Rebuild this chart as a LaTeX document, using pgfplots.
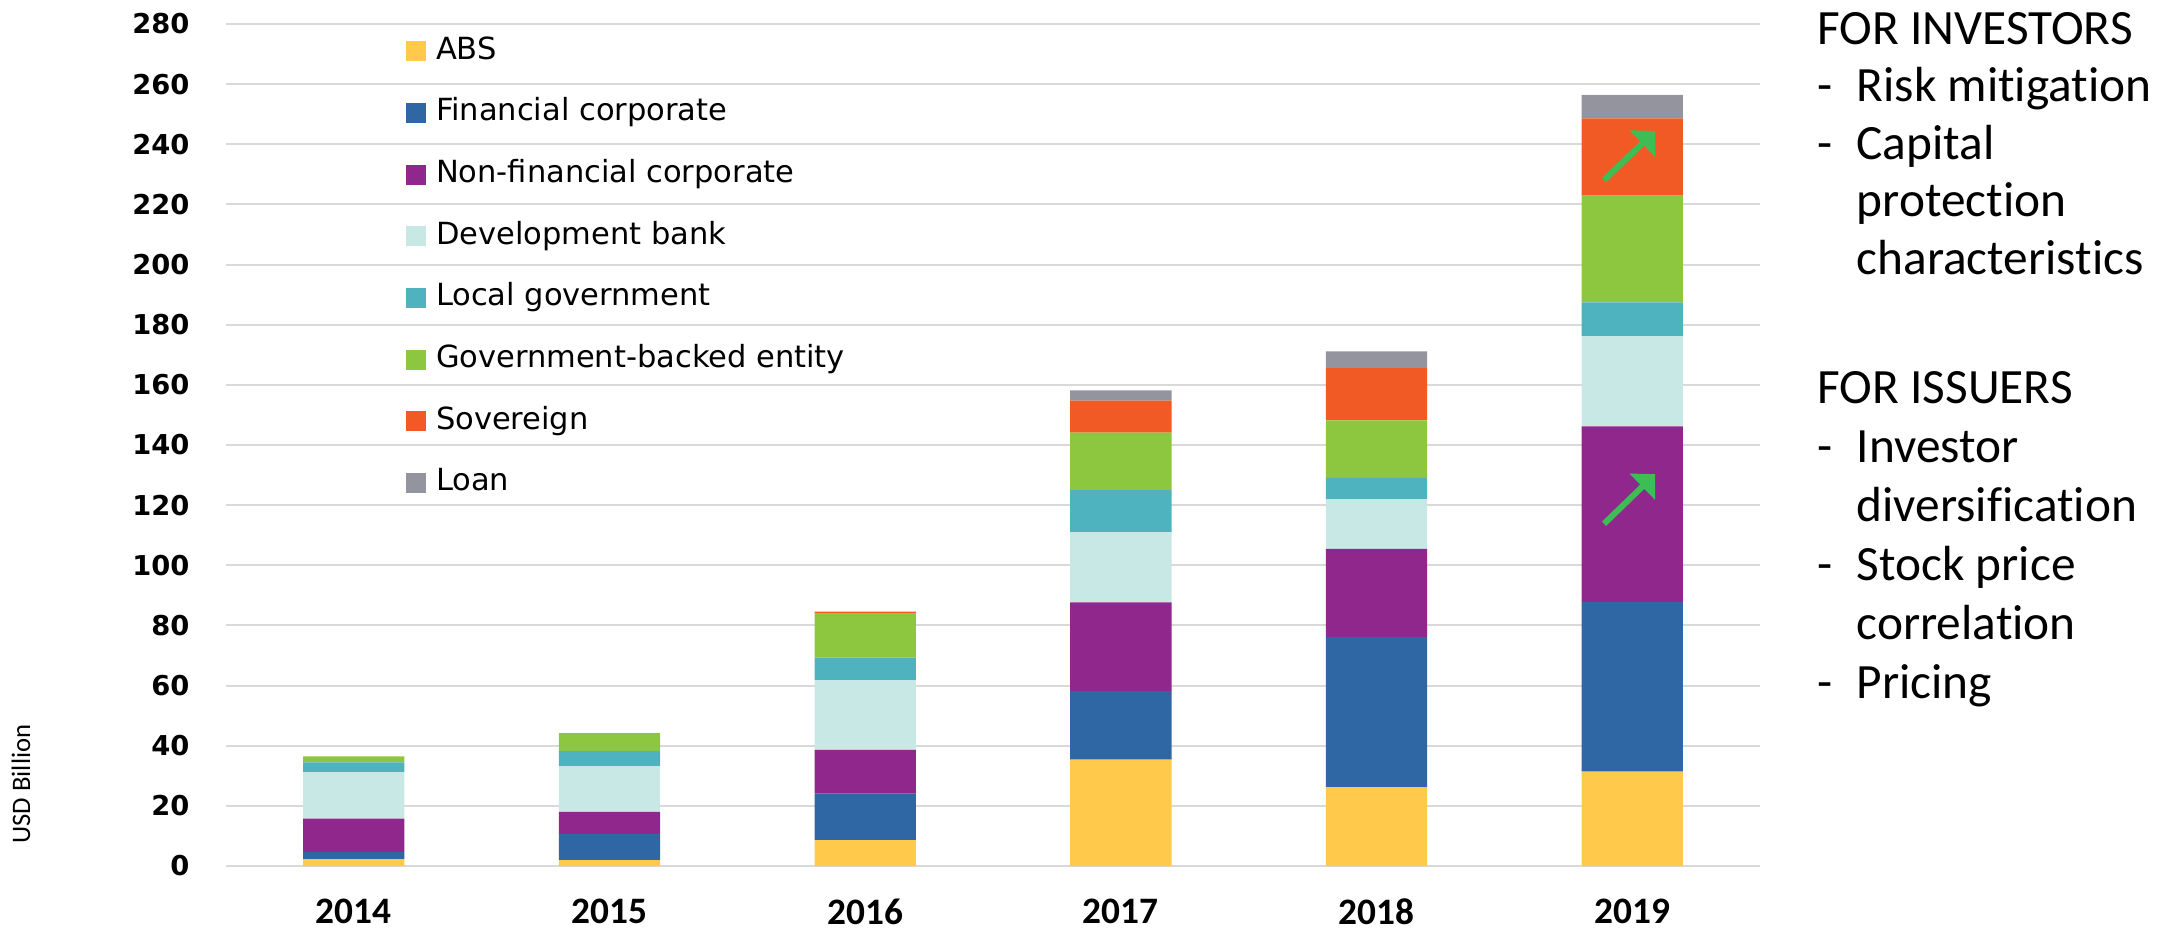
\documentclass[border=0pt]{standalone}
\usepackage{fontspec}
\setmainfont[Ligatures=NoCommon]{Carlito}
\newfontfamily\dejavu{DejaVu Sans}
\usepackage{pgfplots}
\pgfplotsset{compat=1.18}
\usepackage{pgfplotstable}
\usetikzlibrary{arrows.meta}
\definecolor{cABS}{HTML}{FFC94C}
\definecolor{cFin}{HTML}{2F67A5}
\definecolor{cNon}{HTML}{90278C}
\definecolor{cDev}{HTML}{C8E8E5}
\definecolor{cLoc}{HTML}{4EB3BF}
\definecolor{cGov}{HTML}{8DC63F}
\definecolor{cSov}{HTML}{F15A24}
\definecolor{cLoan}{HTML}{94949E}
\definecolor{gridgray}{HTML}{D9D9D9}
\definecolor{arrowgreen}{HTML}{3DBE55}
\pgfplotstableread{
x abs fin nonfin dev local gov sov loan
0 2.2 2.5 11.1 15.4 3.3 2.0 0 0
1 2.0 8.7 7.3 15.2 5.1 5.9 0 0
2 8.6 15.5 14.5 23.2 7.5 14.6 0.7 0
3 35.4 22.8 29.5 23.3 14.0 19.1 10.7 3.4
4 26.2 49.9 29.4 16.4 7.2 19.1 17.4 5.5
5 31.4 56.4 58.4 30.0 11.2 35.5 25.7 7.8
}\data
\begin{document}
\begin{tikzpicture}
\useasboundingbox (-67.8pt,-19.8pt) rectangle (585.3pt,259.8pt);
\begin{axis}[
  scale only axis, width=460.2pt, height=252.6pt,
  ybar stacked, bar width=30.4pt,
  xmin=-0.5, xmax=5.5, ymin=0, ymax=280,
  xtick={0,...,5}, xticklabels={2014,2015,2016,2017,2018,2019},
  ytick={0,20,...,280},
  ymajorgrids, grid style={draw=gridgray, line width=0.6pt},
  axis line style={draw=none}, major tick length=0pt,
  /pgf/number format/assume math mode=true,
  xticklabel style={font=\bfseries\fontsize{11.2}{13}\selectfont, inner sep=0pt, anchor=north, yshift=-9.6pt},
  yticklabel style={font=\dejavu\bfseries\fontsize{8.2}{10}\selectfont, inner sep=0pt, anchor=east, xshift=-10.8pt},
  legend cell align=left,
  legend style={draw=none, fill=none, inner sep=0pt, at={(0.1167,0.9866)}, anchor=north west,
    font=\dejavu\fontsize{9.15}{11}\selectfont, row sep=9.3pt, column sep=3.1pt,
    nodes={inner sep=0pt, text height=7pt, text depth=2.2pt}},
  legend image code/.code={\fill[#1] (0pt,-3pt) rectangle (6pt,3pt);},
]
\addplot[fill=cABS, draw=none] table[x=x, y=abs] {\data};
\addplot[fill=cFin, draw=none] table[x=x, y=fin] {\data};
\addplot[fill=cNon, draw=none] table[x=x, y=nonfin] {\data};
\addplot[fill=cDev, draw=none] table[x=x, y=dev] {\data};
\addplot[fill=cLoc, draw=none] table[x=x, y=local] {\data};
\addplot[fill=cGov, draw=none] table[x=x, y=gov] {\data};
\addplot[fill=cSov, draw=none] table[x=x, y=sov] {\data};
\addplot[fill=cLoan, draw=none] table[x=x, y=loan] {\data};
\legend{ABS, Financial corporate, Non-financial corporate, Development bank, Local government, Government-backed entity, Sovereign, Loan}
\coordinate (a1s) at (axis cs:4.89,228.1);
\coordinate (a1e) at (axis cs:5.09,244.4);
\coordinate (a2s) at (axis cs:4.89,113.8);
\coordinate (a2e) at (axis cs:5.09,130.3);
\end{axis}
\draw[arrowgreen, line width=1.8pt, -{Triangle[length=5.4pt,width=10.7pt]}] (a1s) -- (a1e);
\draw[arrowgreen, line width=1.8pt, -{Triangle[length=5.4pt,width=10.7pt]}] (a2s) -- (a2e);
\node[rotate=90, font=\fontsize{8}{9}\selectfont, inner sep=0pt] at (-61.5pt,24.6pt) {USD Billion};
\begin{scope}[every node/.style={anchor=base west, inner sep=0pt, font=\fontsize{14.8}{16}\selectfont}]
\node at (477.3pt,246.6pt) {FOR INVESTORS};
\node at (477.3pt,229.4pt) {-};
\node at (489.0pt,229.4pt) {Risk mitigation};
\node at (477.3pt,212.1pt) {-};
\node at (489.0pt,212.1pt) {Capital};
\node at (489.0pt,194.9pt) {protection};
\node at (489.0pt,177.6pt) {characteristics};
\node at (477.3pt,138.9pt) {FOR ISSUERS};
\node at (477.3pt,121.2pt) {-};
\node at (489.0pt,121.2pt) {Investor};
\node at (489.0pt,103.5pt) {diversification};
\node at (477.3pt,85.8pt) {-};
\node at (489.0pt,85.8pt) {Stock price};
\node at (489.0pt,68.1pt) {correlation};
\node at (477.3pt,50.4pt) {-};
\node at (489.0pt,50.4pt) {Pricing};
\end{scope}
\end{tikzpicture}
\end{document}
